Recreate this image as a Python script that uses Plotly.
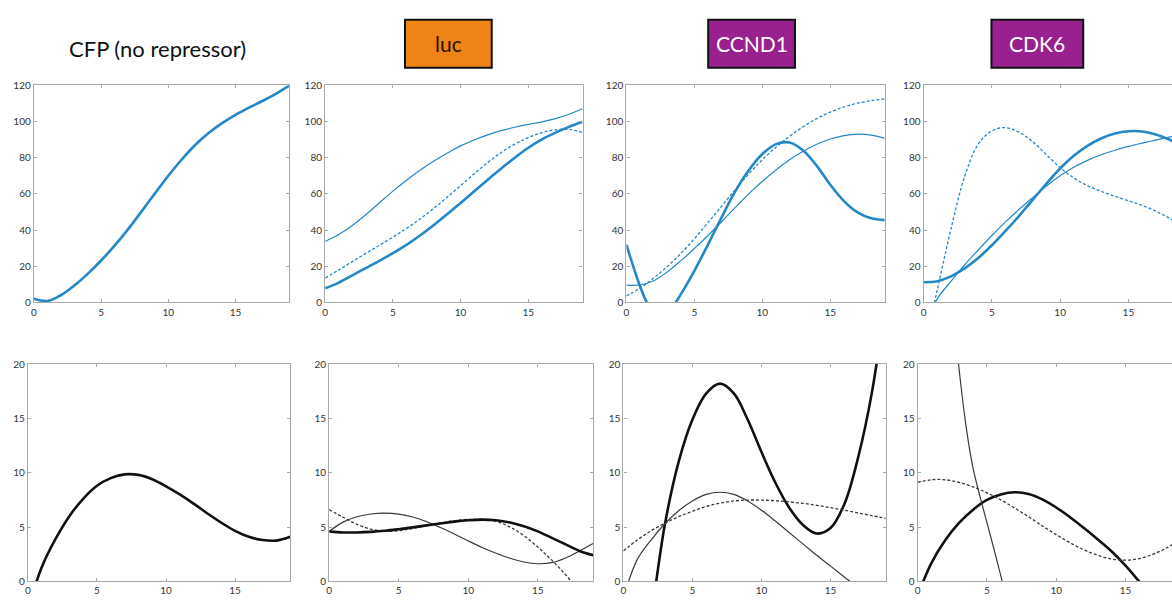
import plotly.graph_objects as go

W, H = 1172, 602

# ---------------- data ----------------
X = [0, 1, 2, 3, 4, 5, 6, 7, 8, 9, 10, 11, 12, 13, 14, 15, 16, 17, 18, 19]

panel_titles = ["CFP (no repressor)", "luc", "CCND1", "CDK6"]
x_ticks = [0, 5, 10, 15]
top_y_ticks = [0, 20, 40, 60, 80, 100, 120]
bottom_y_ticks = [0, 5, 10, 15, 20]

# top row (blue)
cfp_thick = [2, 0.8, 4.0, 9.3, 15.8, 23.2, 31.4, 40.4, 50.2, 60.2, 70.0, 79.0, 87.0, 93.6, 99.1, 103.7, 107.6, 111.3, 115.3, 119.8]

luc_thin = [33.7, 37.5, 42.5, 48.5, 55, 61.5, 67.5, 73, 78, 82.5, 86.5, 89.8, 92.6, 94.9, 96.8, 98.4, 99.8, 101.6, 104, 107]
luc_dash = [13.5, 18, 22.6, 27.1, 31.6, 36.1, 40.9, 46.1, 51.9, 58.1, 64.6, 71.1, 77.3, 82.9, 87.5, 91.1, 93.8, 95.4, 95.6, 94]
luc_thick = [7.8, 11, 15, 19, 23, 27.2, 31.8, 37, 42.7, 48.7, 55, 61.4, 67.8, 74, 80, 85.5, 90.1, 93.8, 97, 99.8]

ccnd1_thick_x = [0, 0.5, 1, 1.5, 2, 2.5, 3, 3.5, 4, 5, 6, 7, 8, 9, 10, 11, 12, 13, 14, 15, 16, 17, 18, 19]
ccnd1_thick = [32, 20, 9, 0, -6, -9, -7, -1.5, 4.5, 17.5, 32, 47, 61.4, 73, 82, 87.5, 88.4, 84, 75.5, 65, 56, 49.8, 46.5, 45.5]
ccnd1_thin = [9.6, 9.7, 12, 16.8, 23, 29.8, 37, 44.6, 52.4, 60, 67, 73.2, 78.8, 83.6, 87.4, 90.3, 92.2, 93, 92.5, 90.8]
ccnd1_dash = [3.6, 8, 13.5, 19.8, 27, 35.2, 44.1, 53.2, 62.3, 71, 78.9, 85.8, 91.8, 97.1, 101.6, 105.2, 108, 110.1, 111.5, 112.5]

cdk6_thick = [11.2, 11.7, 14.4, 18.8, 24.6, 31.6, 39.5, 47.9, 56.8, 65.7, 74.0, 81.0, 86.5, 90.6, 93.3, 94.6, 94.5, 92.8, 90, 86.5]
cdk6_thin = [-14, 2, 11.7, 20.8, 29, 37, 44.5, 51.5, 58, 64.3, 70, 74.7, 78.5, 81.6, 84.1, 86.2, 88, 89.7, 91.4, 93]
cdk6_dash_x = [0, 0.8, 1, 1.5, 2, 3, 4, 5, 6, 7, 8, 9, 10, 11, 12, 13, 14, 15, 16, 17, 18, 19]
cdk6_dash = [-30, 0, 7, 24, 40.6, 69.5, 87.5, 94.8, 96.6, 94, 88.8, 81.6, 74.5, 68.8, 64.6, 61.4, 58.7, 56.2, 53.6, 50.5, 46.5, 41.5]

# bottom row (black)
cfp_b_thick = [-2.5, 1.3, 3.9, 6.0, 7.6, 8.8, 9.5, 9.85, 9.8, 9.4, 8.75, 8.0, 7.15, 6.25, 5.4, 4.65, 4.1, 3.8, 3.75, 4.1]

luc_b_thick = [4.6, 4.5, 4.5, 4.55, 4.65, 4.8, 4.97, 5.15, 5.33, 5.5, 5.62, 5.68, 5.62, 5.42, 5.08, 4.6, 4.0, 3.4, 2.8, 2.4]
luc_b_thin = [4.6, 5.45, 5.95, 6.2, 6.28, 6.18, 5.92, 5.5, 4.95, 4.35, 3.72, 3.12, 2.58, 2.12, 1.78, 1.62, 1.72, 2.15, 2.8, 3.5]
luc_b_dash = [6.6, 5.9, 5.25, 4.8, 4.62, 4.66, 4.86, 5.12, 5.38, 5.58, 5.7, 5.7, 5.52, 5.0, 4.2, 3.15, 1.95, 0.6, -1.0, -3.0]

ccnd1_b_thick = [-22, -12.5, -3.5, 5.2, 11.0, 14.9, 17.3, 18.2, 17.3, 14.9, 11.9, 9.1, 6.8, 5.2, 4.4, 4.9, 7.1, 11.4, 17.4, 26]
ccnd1_b_thin = [-1.5, 2.0, 3.8, 5.3, 6.5, 7.4, 8.0, 8.2, 8.0, 7.4, 6.55, 5.55, 4.5, 3.45, 2.4, 1.4, 0.4, -0.6, -1.7, -2.8]
ccnd1_b_dash = [2.8, 3.8, 4.65, 5.35, 5.95, 6.45, 6.9, 7.2, 7.4, 7.48, 7.48, 7.42, 7.32, 7.18, 7.0, 6.78, 6.55, 6.3, 6.05, 5.8]

cdk6_b_thick = [-1.3, 1.7, 3.8, 5.4, 6.6, 7.5, 8.0, 8.2, 8.05, 7.55, 6.8, 5.9, 4.9, 3.85, 2.75, 1.45, -0.05, -1.7, -3.5, -5.5]
cdk6_b_thin_x = [2, 2.5, 3, 3.5, 4, 4.5, 5, 5.5, 6, 6.5, 7]
cdk6_b_thin = [33, 25.5, 19.4, 14.2, 10.4, 7.8, 5.4, 3.0, 0.5, -2.0, -4.5]
cdk6_b_dash = [9.1, 9.35, 9.35, 9.1, 8.7, 8.15, 7.5, 6.75, 5.95, 5.1, 4.3, 3.55, 2.9, 2.4, 2.05, 1.95, 2.1, 2.5, 3.1, 3.9]

# ---------------- styles ----------------
BLUE = "#2487c8"
BLACK = "#111111"
GRAY = "#3a3a3a"
AXIS = "#a8a8a8"
FONT = "Lato"

styles = {
    "thick": dict(width=2.6),
    "thin": dict(width=1.2),
    "dash": dict(width=1.3, dash="3px,2px"),
}

# panel pixel boxes: (left, right_at_x19)
top_boxes = [(31, 287), (323, 581), (625, 884), (923, 1183)]
bot_boxes = [(25, 288), (327, 592), (622, 885), (917, 1181)]
TOP_Y = (80, 302)
BOT_Y = (365, 587)

fig = go.Figure()

def px2x(p):
    return p / W

def px2y(p):
    return 1 - p / H

panels = []
for i, (l, r) in enumerate(top_boxes):
    panels.append(dict(l=l, r=r, t=TOP_Y[0], b=TOP_Y[1], yr=[0, 120], yt=top_y_ticks, col=i))
for i, (l, r) in enumerate(bot_boxes):
    panels.append(dict(l=l, r=r, t=BOT_Y[0], b=BOT_Y[1], yr=[0, 20], yt=bottom_y_ticks, col=i))

layout_axes = {}
for k, p in enumerate(panels):
    n = "" if k == 0 else str(k + 1)
    right = min(p["r"], W)
    xmax = 19 * (right - p["l"]) / (p["r"] - p["l"])
    last = p["col"] == 3
    layout_axes["xaxis" + n] = dict(
        domain=[px2x(p["l"]), px2x(right)], range=[0, xmax], anchor="y" + n,
        tickvals=x_ticks, ticks="inside", ticklen=3, tickcolor=AXIS,
        showline=True, linecolor=AXIS, linewidth=1.3, mirror="ticks",
        showgrid=False, zeroline=False,
        tickfont=dict(family=FONT, size=10, color="#333"),
    )
    layout_axes["yaxis" + n] = dict(
        domain=[px2y(p["b"]), px2y(p["t"])], range=p["yr"], anchor="x" + n,
        tickvals=p["yt"], ticks="inside", ticklen=3, tickcolor=AXIS,
        showline=True, linecolor=AXIS, linewidth=1.3,
        mirror=False if last else "ticks",
        showgrid=False, zeroline=False,
        tickfont=dict(family=FONT, size=10, color="#333"),
    )

def add(k, x, y, kind, color):
    n = "" if k == 0 else str(k + 1)
    fig.add_trace(go.Scatter(
        x=x, y=y, mode="lines", line=dict(color=color, shape="spline", smoothing=1.0, **styles[kind]),
        xaxis="x" + n, yaxis="y" + n, showlegend=False, hoverinfo="skip"))

# top row
add(0, X, cfp_thick, "thick", BLUE)
add(1, X, luc_thin, "thin", BLUE)
add(1, X, luc_dash, "dash", BLUE)
add(1, X, luc_thick, "thick", BLUE)
add(2, ccnd1_thick_x, ccnd1_thick, "thick", BLUE)
add(2, X, ccnd1_thin, "thin", BLUE)
add(2, X, ccnd1_dash, "dash", BLUE)
add(3, X, cdk6_thick, "thick", BLUE)
add(3, X, cdk6_thin, "thin", BLUE)
add(3, cdk6_dash_x, cdk6_dash, "dash", BLUE)
# bottom row
add(4, X, cfp_b_thick, "thick", BLACK)
add(5, X, luc_b_thin, "thin", GRAY)
add(5, X, luc_b_dash, "dash", GRAY)
add(5, X, luc_b_thick, "thick", BLACK)
add(6, X, ccnd1_b_thick, "thick", BLACK)
add(6, X, ccnd1_b_thin, "thin", GRAY)
add(6, X, ccnd1_b_dash, "dash", GRAY)
add(7, X, cdk6_b_thick, "thick", BLACK)
add(7, cdk6_b_thin_x, cdk6_b_thin, "thin", GRAY)
add(7, X, cdk6_b_dash, "dash", GRAY)

# titles
title_boxes = [None, (403, 490, 13, 62, "#ef8416", "#2a1200"),
               (707, 794, 13, 62, "#99208f", "#ffffff"),
               (991, 1083, 13, 62, "#99208f", "#ffffff")]
shapes = []
annotations = []
annotations.append(dict(text=panel_titles[0], x=px2x(155), y=px2y(42), xref="paper", yref="paper",
                        showarrow=False, font=dict(family=FONT, size=22, color="#111"),
                        xanchor="center", yanchor="middle"))
for i in range(1, 4):
    l, r, t, b, fill, tc = title_boxes[i]
    shapes.append(dict(type="rect", xref="paper", yref="paper", x0=px2x(l), x1=px2x(r),
                       y0=px2y(b), y1=px2y(t), fillcolor=fill, line=dict(color="#111", width=2)))
    annotations.append(dict(text=panel_titles[i], x=px2x((l + r) / 2), y=px2y((t + b) / 2),
                            xref="paper", yref="paper", showarrow=False,
                            font=dict(family=FONT, size=21, color=tc),
                            xanchor="center", yanchor="middle"))

fig.update_layout(
    width=W, height=H, margin=dict(l=0, r=0, t=0, b=0),
    paper_bgcolor="white", plot_bgcolor="white",
    shapes=shapes, annotations=annotations, **layout_axes,
)

fig.write_html(
    "out.html",
    config={"displayModeBar": False},
    post_script=(
        "document.documentElement.style.cssText='margin:0;padding:0;overflow:hidden;height:602px;';"
        "document.body.style.cssText='margin:0;padding:0;overflow:hidden;height:602px;';"
        "var d=document.getElementById('{plot_id}');"
        "d.style.position='absolute';d.style.top='0px';d.style.left='0px';"
    ),
)
